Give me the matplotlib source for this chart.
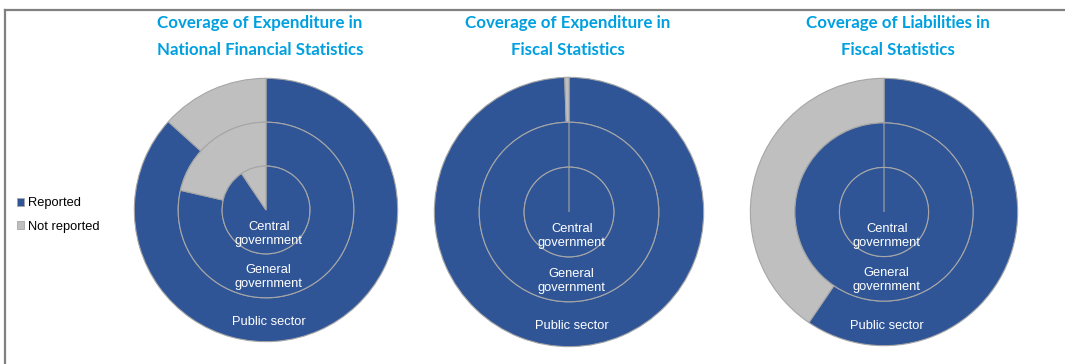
import matplotlib.pyplot as plt
from matplotlib.lines import Line2D
from matplotlib.patches import Patch

# shares reported / not reported (percent), per ring
titles = ["Coverage of Expenditure in\nNational Financial Statistics",
          "Coverage of Expenditure in\nFiscal Statistics",
          "Coverage of Liabilities in\nFiscal Statistics"]
public_sector = [[86.7, 13.3], [99.5, 0.5], [59.5, 40.5]]
general_gov = [[78.6, 21.4], [100.0, 0.0], [100.0, 0.0]]
central_gov = [[90.6, 9.4], [100.0, 0.0], [100.0, 0.0]]
series_names = ["Reported", "Not reported"]
ring_labels = ["Central\ngovernment", "General\ngovernment", "Public sector"]

BLUE = "#2F5597"
GREY = "#BFBFBF"
EDGE = "#A6A6A6"
TITLE_BLUE = "#00A0E0"

W, H = 1065, 364
fig = plt.figure(figsize=(W / 100, H / 100), dpi=100)

# pie centres and radii in pixels
centres = [(266, 210, 133), (569, 212, 136), (884, 212, 135)]
title_x = [260, 568, 898]

for i, (cx, cy, r) in enumerate(centres):
    ax = fig.add_axes([(cx - r) / W, (H - cy - r) / H, 2 * r / W, 2 * r / H])
    ax.set_xlim(-1, 1)
    ax.set_ylim(-1, 1)
    ax.set_aspect("equal")
    ax.axis("off")
    wp = dict(edgecolor=EDGE, linewidth=0.8)
    ax.pie(public_sector[i], radius=1.0, colors=[BLUE, GREY], startangle=90,
           counterclock=False, wedgeprops=dict(width=1 / 3, **wp))
    ax.pie(general_gov[i], radius=2 / 3, colors=[BLUE, GREY], startangle=90,
           counterclock=False, wedgeprops=dict(width=1 / 3, **wp))
    ax.pie(central_gov[i], radius=1 / 3, colors=[BLUE, GREY], startangle=90,
           counterclock=False, wedgeprops=wp)
    ax.set_xlim(-1.01, 1.01)
    ax.set_ylim(-1.01, 1.01)
    for lbl, y in zip(ring_labels, [-0.18, -0.51, -0.85]):
        ax.text(0.02, y, lbl, ha="center", va="center", color="white",
                fontsize=9.3, family=["Liberation Sans", "DejaVu Sans"],
                linespacing=1.25)
    fig.text(title_x[i] / W, 1 - 36.5 / H, titles[i], ha="center", va="center",
             color=TITLE_BLUE, fontsize=12.2, fontweight="bold",
             family=["Lato", "DejaVu Sans"], linespacing=1.85)

handles = [Patch(facecolor=BLUE, edgecolor=EDGE, linewidth=0.6),
           Patch(facecolor=GREY, edgecolor=EDGE, linewidth=0.6)]
fig.legend(handles, series_names, loc="center left",
           bbox_to_anchor=(5 / W, 1 - 215 / H), frameon=False,
           handlelength=0.6, handleheight=0.6, handletextpad=0.3,
           labelspacing=0.9, prop=dict(family="Liberation Sans", size=9.3))

# thin frame along the top and left edges
fig.add_artist(Line2D([5 / W, 1], [1 - 10 / H, 1 - 10 / H], color="#808080", lw=1.6))
fig.add_artist(Line2D([5 / W, 5 / W], [0, 1 - 10 / H], color="#808080", lw=1.6))

fig.savefig("out.png", dpi=100, facecolor="white")
